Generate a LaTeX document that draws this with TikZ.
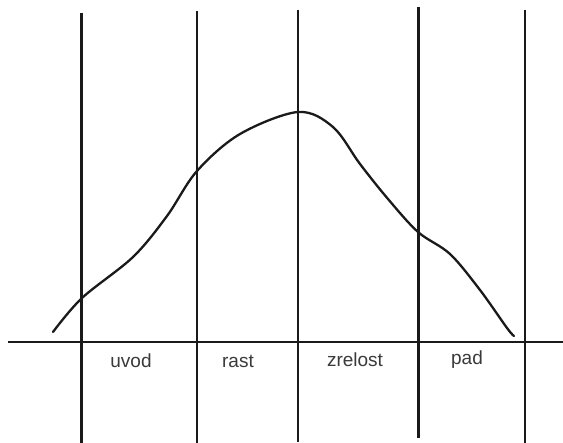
\documentclass[tikz,border=0pt]{standalone}
\usepackage{fontspec}
\setmainfont{Liberation Sans}
\usepackage{tikz}
\definecolor{LineInk}{HTML}{1A1A1A}
\definecolor{TextInk}{HTML}{3A3A3A}

\begin{document}
\begin{tikzpicture}[x=1pt, y=-1pt,
  divider/.style={line width=2.3pt, color=LineInk},
  lifecurve/.style={line width=2.3pt, color=LineInk, line cap=round},
  phase/.style={font=\fontsize{19}{21}\selectfont, text=TextInk, anchor=base}
]
  \useasboundingbox[fill=white] (0,0) rectangle (563,443);

  % time axis
  \coordinate (axisL) at (8,342);
  \coordinate (axisR) at (563,342);
  \draw[divider] (axisL) -- (axisR);

  % phase borders
  \foreach \x/\top/\bot [count=\i] in {81.5/13/443, 197/11/443, 298/10/442, 418.5/7/438, 525/10/443}{
    \coordinate (top\i) at (\x,\top);
    \coordinate (bot\i) at (\x,\bot);
    \draw[divider] (top\i) -- (bot\i);
  }

  % life cycle curve
  \draw[lifecurve] plot[smooth, tension=0.55] coordinates {
    (53,332) (82,298) (133,257) (167,216) (197,171) (240,134) (298,112)
    (333,127) (360,164) (388,199) (418,232) (450,254) (480,290) (507,328)
    (514,336)};

  % phase names
  \node[phase] (uvod)    at (131,368) {uvod};
  \node[phase] (rast)    at (238,368) {rast};
  \node[phase] (zrelost) at (355,367) {zrelost};
  \node[phase] (pad)     at (467,365) {pad};
\end{tikzpicture}
\end{document}
